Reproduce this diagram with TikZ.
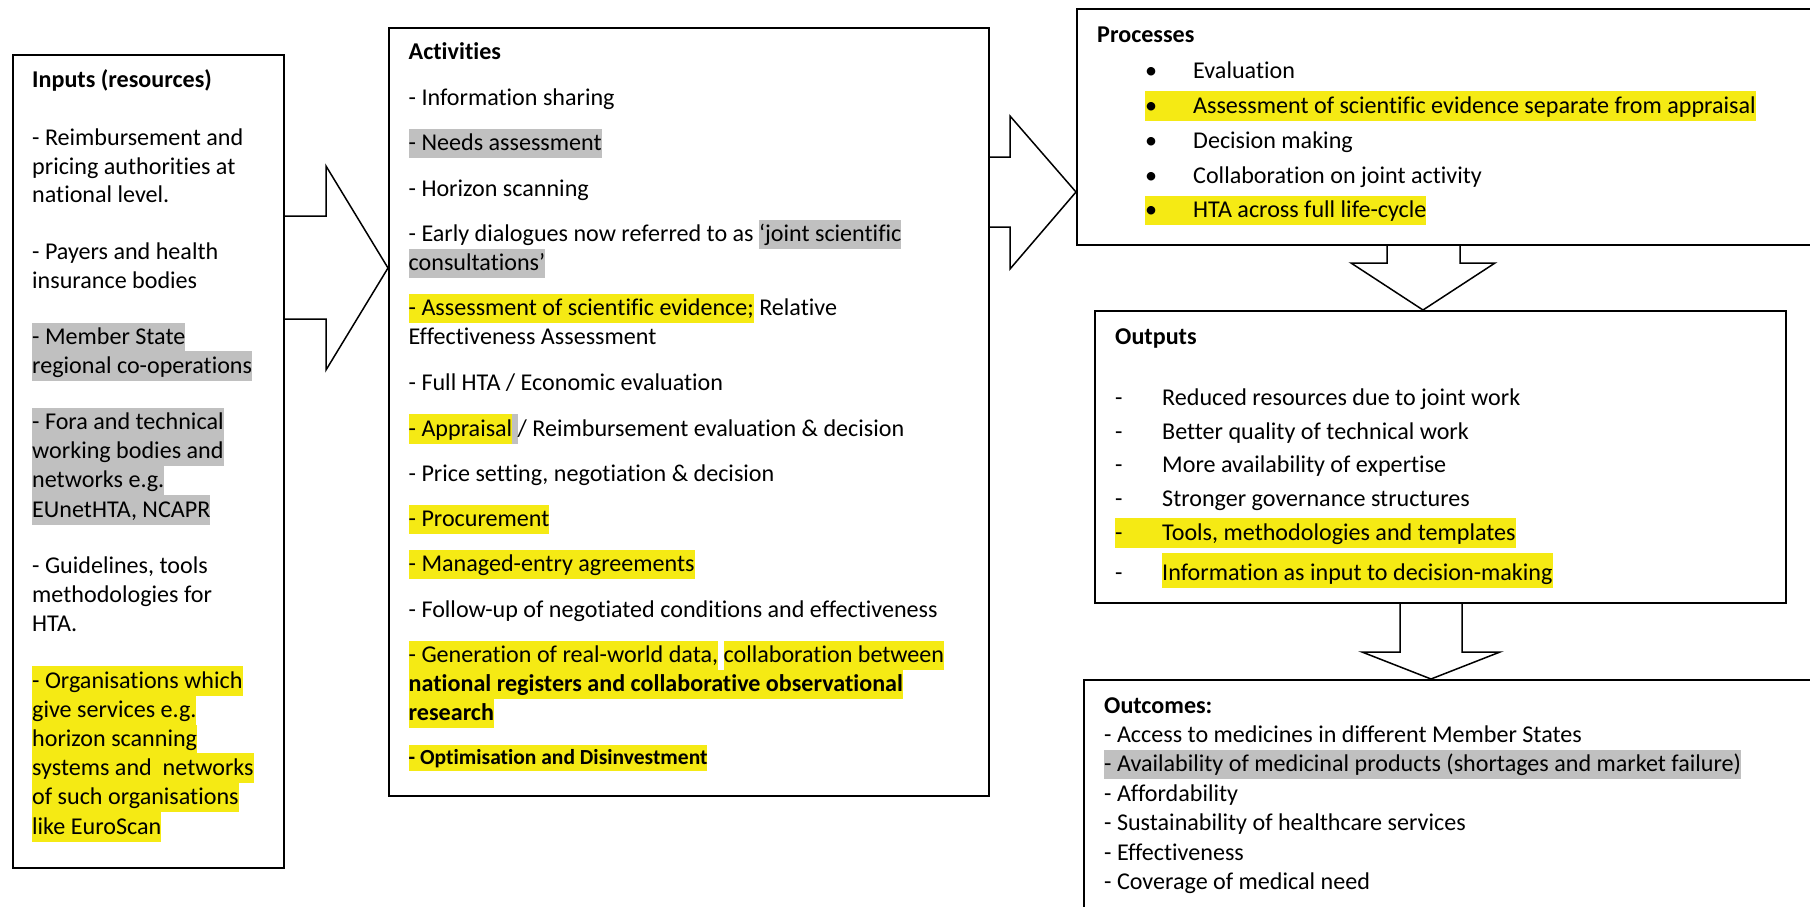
\documentclass[tikz,border=0pt]{standalone}
\usepackage{fontspec}
\setmainfont{Carlito}[Ligatures={NoCommon}]
\usetikzlibrary{calc}
\definecolor{hlyellow}{RGB}{245,234,20}
\definecolor{hlgray}{RGB}{192,192,192}
% text highlighting, one line high
\newcommand\hlbox[2]{{\setlength{\fboxsep}{0pt}\colorbox{#1}{\rule[-7.5pt]{0pt}{29.5pt}#2}}}
\newcommand\hly[1]{\hlbox{hlyellow}{#1}}
\newcommand\hlg[1]{\hlbox{hlgray}{#1}}
\newcommand\hlyt[1]{{\setlength{\fboxsep}{0pt}\colorbox{hlyellow}{\rule[-7.5pt]{0pt}{35pt}#1}}}
% list markers with a tab after them
\newcommand\bul{\makebox[48pt][l]{•}}
\newcommand\dsh{\makebox[47pt][l]{-}}
\begin{document}
\begin{tikzpicture}[x=1pt,y=-1pt,
  box/.style={draw=black, line width=1.8pt, inner sep=0pt, anchor=north west},
  blockarrow/.style={draw=black, line width=1.5pt, line join=miter},
  txt/.style={anchor=base west, inner sep=0pt, font=\fontsize{24.1}{29}\selectfont},
  head/.style={txt, font=\fontsize{24.1}{29}\selectfont\bfseries},
  small/.style={txt, font=\fontsize{21.5}{26}\selectfont\bfseries}]
\useasboundingbox (0,0) rectangle (1810,907);
\clip (0,0) rectangle (1810,907);
\fill[white] (0,0) rectangle (1810,907);

% boxes
\node[box, minimum width=271, minimum height=813] (inputs) at (12,54) {};
\node[box, minimum width=600, minimum height=768] (acts) at (388,27) {};
\node[box, minimum width=800, minimum height=236] (procs) at (1076,8) {};
\node[box, minimum width=691, minimum height=292] (outs) at (1094,310) {};
\node[box, minimum width=800, minimum height=300] (outc) at (1083,679) {};

% block arrows
\draw[blockarrow] (inputs.east |- 0,216) -| (326,166) -- (acts.west |- 0,268)
  -- (326,370) |- (inputs.east |- 0,319);
\draw[blockarrow] (acts.east |- 0,157) -| (1010,116) -- (procs.west |- 0,192)
  -- (1010,269) |- (acts.east |- 0,227);
\draw[blockarrow] (procs.south -| 1387,0) |- (1351,263) -- (outs.north -| 1423,0)
  -- (1495,263) -| (procs.south -| 1460,0);
\draw[blockarrow] (outs.south -| 1400,0) |- (1362,652) -- (outc.north -| 1431,0)
  -- (1500,652) -| (outs.south -| 1462,0);

% Inputs
\node[head] (inT) at (32,88) {Inputs (resources)};
\node[txt] (in1) at (32,145.5) {- Reimbursement and};
\node[txt] (in2) at (32,174) {pricing authorities at};
\node[txt] (in3) at (32,202.8) {national level.};
\node[txt] (in4) at (32,259.8) {- Payers and health};
\node[txt] (in5) at (32,288.5) {insurance bodies};
\node[txt] (in6) at (32,344.6) {\hlg{- Member State}};
\node[txt] (in7) at (32,373.2) {\hlg{regional co-operations}};
\node[txt] (in8) at (32,429.8) {\hlg{- Fora and technical}};
\node[txt] (in9) at (32,458.8) {\hlg{working bodies and}};
\node[txt] (in10) at (32,487.6) {\hlg{networks e.g.}};
\node[txt] (in11) at (32,517.2) {\hlg{EUnetHTA, NCAPR}};
\node[txt] (in12) at (32,573.6) {- Guidelines, tools};
\node[txt] (in13) at (32,602.6) {methodologies for};
\node[txt] (in14) at (32,631.5) {HTA.};
\node[txt] (in15) at (32,688.2) {\hly{- Organisations which}};
\node[txt] (in16) at (32,717) {\hly{give services e.g.}};
\node[txt] (in17) at (32,746.5) {\hly{horizon scanning}};
\node[txt] (in18) at (32,775) {\hly{systems and\ \ networks}};
\node[txt] (in19) at (32,804.2) {\hly{of such organisations}};
\node[txt] (in20) at (32,834) {\hly{like EuroScan}};

% Activities
\node[head] (acT) at (408.5,59.8) {Activities};
\node[txt] (ac1) at (408.5,105.5) {- Information sharing};
\node[txt] (ac2) at (408.5,150.5) {\hlg{- Needs assessment}};
\node[txt] (ac3) at (408.5,196.5) {- Horizon scanning};
\node[txt] (ac4) at (408.5,241.5) {- Early dialogues now referred to as \hlg{‘joint scientific}};
\node[txt] (ac5) at (408.5,270.8) {\hlg{consultations’}};
\node[txt] (ac6) at (408.5,315.8) {\hly{- Assessment of scientific evidence;} Relative};
\node[txt] (ac7) at (408.5,344.8) {Effectiveness Assessment};
\node[txt] (ac8) at (408.5,390.2) {- Full HTA / Economic evaluation};
\node[txt] (ac9) at (408.5,436) {\hly{- Appraisal}\hlg{\ }/ Reimbursement evaluation \& decision};
\node[txt] (ac10) at (408.5,481.5) {- Price setting, negotiation \& decision};
\node[txt] (ac11) at (408.5,526.5) {\hly{- Procurement}};
\node[txt] (ac12) at (408.5,571.5) {\hly{- Managed-entry agreements}};
\node[txt] (ac13) at (408.5,617.2) {- Follow-up of negotiated conditions and effectiveness};
\node[txt] (ac14) at (408.5,662.5) {\hly{- Generation of real-world data,} \hly{collaboration between}};
\node[txt] (ac15) at (408.5,691.5) {\hly{\bfseries national registers and collaborative observational}};
\node[txt] (ac16) at (408.5,720.8) {\hly{\bfseries research}};
\node[small] (ac17) at (408.5,764) {{\setlength{\fboxsep}{0pt}\colorbox{hlyellow}{\rule[-6.5pt]{0pt}{26pt}- Optimisation and Disinvestment}}};

% Processes
\node[head] (prT) at (1097,43) {Processes};
\node[txt] (pr1) at (1145,78) {\bul Evaluation};
\node[txt] (pr2) at (1145,113) {\hly{\bul Assessment of scientific evidence separate from appraisal}};
\node[txt] (pr3) at (1145,148.5) {\bul Decision making};
\node[txt] (pr4) at (1145,183.5) {\bul Collaboration on joint activity};
\node[txt] (pr5) at (1145,217.5) {\hly{\bul HTA across full life-cycle}};

% Outputs
\node[head] (ouT) at (1115,344.5) {Outputs};
\node[txt] (ou1) at (1115,405.8) {\dsh Reduced resources due to joint work};
\node[txt] (ou2) at (1115,439) {\dsh Better quality of technical work};
\node[txt] (ou3) at (1115,472.8) {\dsh More availability of expertise};
\node[txt] (ou4) at (1115,506.8) {\dsh Stronger governance structures};
\node[txt] (ou5) at (1115,540.2) {\hly{\dsh Tools, methodologies and templates}};
\node[txt] (ou6d) at (1115,580) {-};
\node[txt] (ou6) at (1162,580) {\hlyt{Information as input to decision-making}};

% Outcomes
\node[head] (ocT) at (1104,713.3) {Outcomes:};
\node[txt] (oc1) at (1104,742.5) {- Access to medicines in different Member States};
\node[txt] (oc2) at (1104,771.9) {\hlg{- Availability of medicinal products (shortages and market failure)}};
\node[txt] (oc3) at (1104,801.3) {- Affordability};
\node[txt] (oc4) at (1104,830.7) {- Sustainability of healthcare services};
\node[txt] (oc5) at (1104,860.1) {- Effectiveness};
\node[txt] (oc6) at (1104,889.3) {- Coverage of medical need};
\end{tikzpicture}
\end{document}
